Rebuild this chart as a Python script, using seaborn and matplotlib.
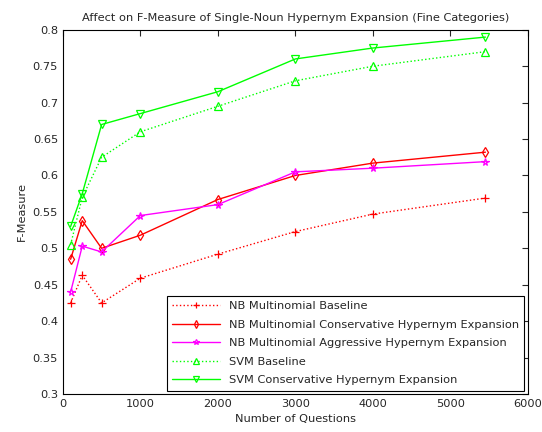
import pandas as pd
import seaborn as sns
import matplotlib.pyplot as plt

questions = [100, 250, 500, 1000, 2000, 3000, 4000, 5452]
nb_baseline = [0.425, 0.463, 0.425, 0.459, 0.492, 0.523, 0.547, 0.569]
nb_conservative = [0.485, 0.538, 0.500, 0.518, 0.567, 0.600, 0.617, 0.632]
nb_aggressive = [0.440, 0.503, 0.495, 0.545, 0.560, 0.605, 0.610, 0.619]
svm_baseline = [0.505, 0.570, 0.625, 0.660, 0.695, 0.730, 0.750, 0.770]
svm_conservative = [0.530, 0.575, 0.670, 0.685, 0.715, 0.760, 0.775, 0.790]

series = [
    ('NB Multinomial Baseline', nb_baseline, '#ff0000', '+', ':'),
    ('NB Multinomial Conservative Hypernym Expansion', nb_conservative, '#ff0000', 'd', '-'),
    ('NB Multinomial Aggressive Hypernym Expansion', nb_aggressive, '#ff00ff', '*', '-'),
    ('SVM Baseline', svm_baseline, '#00ff00', '^', ':'),
    ('SVM Conservative Hypernym Expansion', svm_conservative, '#00ff00', 'v', '-'),
]

sns.set_style('white')
plt.rcParams['font.family'] = ['DejaVu Sans']
fs = 8.2

fig = plt.figure(figsize=(5.42, 4.32), dpi=100)
ax = fig.add_axes([0.116, 0.088, 0.858, 0.843])

for name, vals, color, marker, ls in series:
    df = pd.DataFrame({'Questions': questions, 'F': vals})
    sns.lineplot(x='Questions', y='F', data=df, ax=ax, label=name, color=color,
                 marker=marker, linestyle=ls, linewidth=1, markersize=5.5,
                 markerfacecolor='none', markeredgecolor=color, markeredgewidth=0.9)

ax.set_xlim(0, 6000)
ax.set_ylim(0.3, 0.8)
ax.set_xticks(range(0, 6001, 1000))
ax.set_yticks([0.3 + 0.05 * i for i in range(11)])
ax.set_yticklabels(['0.3', '0.35', '0.4', '0.45', '0.5', '0.55', '0.6', '0.65', '0.7', '0.75', '0.8'])
ax.tick_params(direction='in', top=True, right=True, length=4, width=0.8, labelsize=fs)
for s in ax.spines.values():
    s.set_color('black')
    s.set_linewidth(0.8)
ax.set_title('Affect on F-Measure of Single-Noun Hypernym Expansion (Fine Categories)', fontsize=fs)
ax.set_xlabel('Number of Questions', fontsize=fs)
ax.set_ylabel('F-Measure', fontsize=fs)
leg = ax.legend(loc='lower right', fontsize=fs, fancybox=False, framealpha=1,
                edgecolor='black', borderaxespad=0.3, handlelength=4.2,
                markerscale=0.7, labelspacing=0.75, borderpad=0.45)
leg.get_frame().set_linewidth(0.8)

plt.savefig('out.png', dpi=100)
